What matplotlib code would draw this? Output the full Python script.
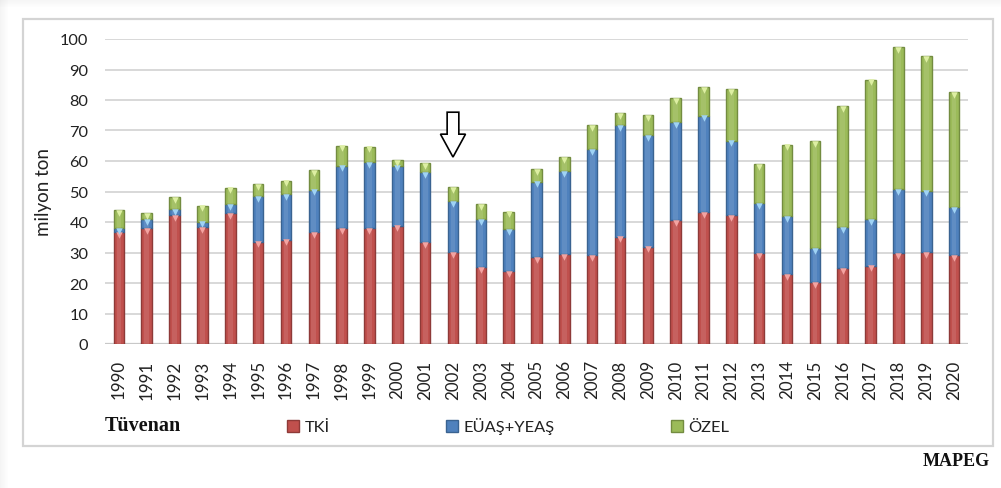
import matplotlib
matplotlib.use("Agg")
import matplotlib.pyplot as plt
from matplotlib.patches import Rectangle, FancyArrow
import numpy as np

# Annual lignite (tüvenan) production, million tonnes, by producer
years = [str(y) for y in range(1990, 2021)]
tki = [36.6, 38.1, 42.3, 38.3, 42.9, 33.6, 34.2, 36.6, 37.9, 38.1, 38.8,
       33.3, 30.1, 25.1, 23.8, 28.4, 29.5, 29.2, 35.2, 31.9, 40.7, 43.2,
       42.3, 29.8, 23.0, 20.2, 24.8, 25.7, 29.7, 30.1, 29.2]
euas_yeas = [1.4, 2.9, 2.0, 1.8, 3.0, 14.8, 15.0, 14.0, 20.6, 21.5, 19.7,
             23.0, 16.7, 15.9, 13.9, 24.8, 27.3, 34.7, 36.6, 36.6, 32.0, 31.7,
             24.4, 16.4, 18.9, 11.2, 13.5, 15.3, 21.1, 20.2, 15.6]
ozel = [6.0, 2.0, 3.9, 5.3, 5.4, 4.1, 4.4, 6.4, 6.5, 5.1, 1.9,
        3.0, 4.6, 4.9, 5.7, 4.2, 4.4, 7.9, 3.9, 6.6, 8.0, 9.3,
        16.9, 12.8, 23.5, 35.0, 39.8, 45.7, 46.5, 44.2, 37.7]
series_names = ["TKİ", "EÜAŞ+YEAŞ", "ÖZEL"]
yticks = list(range(0, 101, 10))

face = ["#C0504D", "#4F81BD", "#9BBB59"]
edge = ["#8E3A38", "#3A6391", "#738C40"]
tip = ["#F4A3A1", "#9FD3F5", "#DDEFA2"]

plt.rcParams["font.family"] = ["Lato", "DejaVu Sans"]

W, H = 1001, 489
fig = plt.figure(figsize=(W / 100, H / 100), dpi=100)
fig.patch.set_facecolor("white")

# soft shadow along the top and left page edges
for i in range(8):
    a = 0.10 * (1 - i / 8)
    fig.add_artist(Rectangle((0, 1 - (i + 1) / H), 1, 1 / H, transform=fig.transFigure,
                             facecolor="#9a9a9a", alpha=a, edgecolor="none"))
    fig.add_artist(Rectangle((i / W, 0), 1 / W, 1, transform=fig.transFigure,
                             facecolor="#9a9a9a", alpha=a, edgecolor="none"))

# chart frame
fig.add_artist(Rectangle((23 / W, 1 - 447 / H), (993 - 23) / W, (447 - 20) / H,
                         transform=fig.transFigure, facecolor="none",
                         edgecolor="#D4D4D4", linewidth=1.6))

ax = fig.add_axes([105 / W, 1 - 345 / H, (968 - 105) / W, (345 - 40) / H])
x = np.arange(len(years))
bw = 0.38

bottoms = np.zeros(len(years))
handles = []
for vals, fc, ec, tc, name in zip([tki, euas_yeas, ozel], face, edge, tip, series_names):
    vals = np.array(vals)
    b = ax.bar(x, vals, bw, bottom=bottoms, color=fc, edgecolor=ec,
               linewidth=1.0, label=name, zorder=3)
    # lighter centre stripe for the bevelled look
    ax.bar(x, vals, bw * 0.45, bottom=bottoms, color="white", alpha=0.10,
           linewidth=0, zorder=4)
    tops = bottoms + vals
    ax.scatter(x, tops - 0.9, marker="v", s=22, color=tc, linewidths=0, zorder=5)
    handles.append(b)
    bottoms = tops

ax.set_xlim(-0.5, len(years) - 0.5)
ax.set_ylim(0, 100)
ax.set_yticks(yticks)
ax.set_xticks(x)
ax.set_xticklabels(years, rotation=90, fontsize=12.2, color="#222222")
ax.tick_params(axis="y", length=0, pad=12, labelsize=11.8, labelcolor="#222222")
ax.tick_params(axis="x", length=0, pad=11)
ax.yaxis.grid(True, color="#D6D6D6", linewidth=1.3, zorder=0)
ax.set_axisbelow(True)
for s in ax.spines.values():
    s.set_visible(False)
ax.axhline(0, color="#C8C8C8", linewidth=1.6, zorder=2)
ax.set_ylabel("milyon ton", fontsize=13.5, color="#222222", labelpad=6)
ax.set_facecolor("none")

# hollow arrow pointing at 2002
ax.add_patch(FancyArrow(years.index("2002"), 76, 0, -14.7, width=0.42,
                        head_width=0.9, head_length=7.5, length_includes_head=True,
                        facecolor="white", edgecolor="black", linewidth=1.2,
                        zorder=6, clip_on=False))

leg = fig.legend(handles=handles, labels=series_names, loc="center left",
                 bbox_to_anchor=(279 / W, 1 - 427 / H), ncol=3, frameon=False,
                 fontsize=11.8, handlelength=0.75, handleheight=0.75,
                 handletextpad=0.3, columnspacing=7.1, borderpad=0)
for t in leg.get_texts():
    t.set_color("#222222")

fig.text(105 / W, 1 - 426 / H, "Tüvenan", fontsize=14.5, fontweight="bold",
         family="Liberation Serif", va="center", ha="left", color="#111111")
fig.text(990 / W, 1 - 462 / H, "MAPEG", fontsize=13, fontweight="bold",
         family="Liberation Serif", va="center", ha="right", color="#111111")

fig.savefig("out.png", dpi=100)
